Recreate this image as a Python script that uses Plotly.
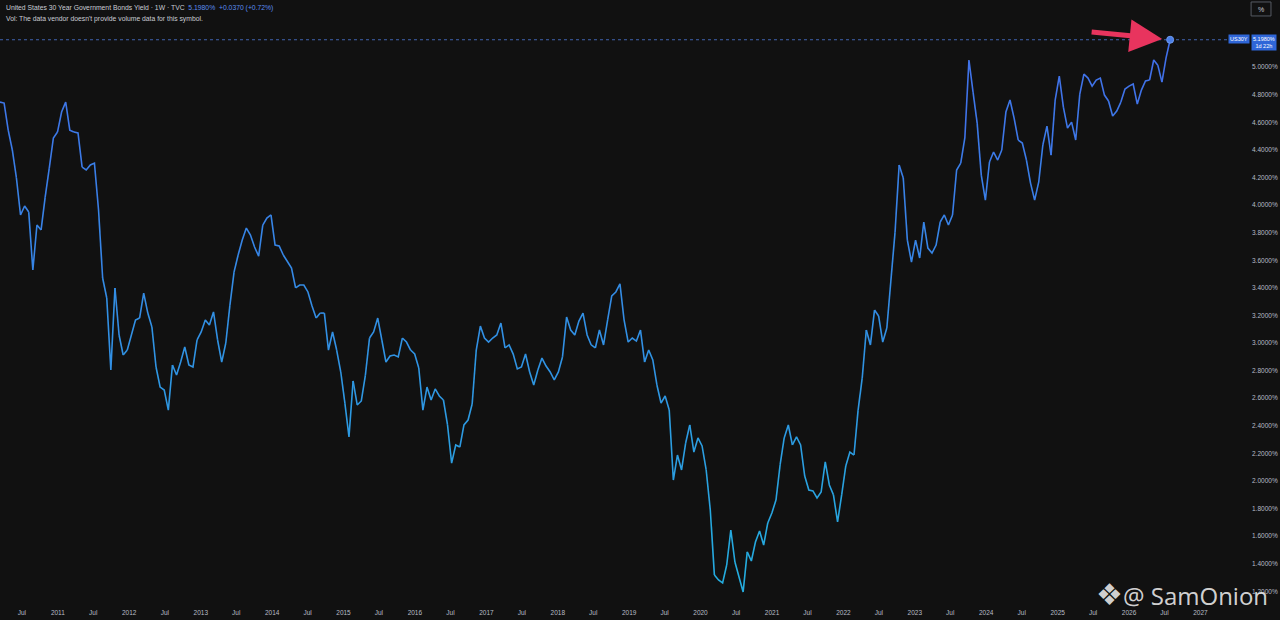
import plotly.graph_objects as go
import pandas as pd

# ---------------- data ----------------
start_date = "2010-03-11"          # first bar shown
bar_step_days = 21                 # sampled every 3 weeks
yields = [
    4.746, 4.739, 4.543, 4.399, 4.196, 3.928, 3.993, 3.949, 3.529, 3.855,
    3.819, 4.058, 4.268, 4.486, 4.529, 4.674, 4.746, 4.543, 4.529, 4.522,
    4.275, 4.254, 4.290, 4.304, 3.964, 3.471, 3.326, 2.804, 3.399, 3.058,
    2.913, 2.949, 3.058, 3.167, 3.181, 3.362, 3.217, 3.116, 2.826, 2.681,
    2.659, 2.514, 2.841, 2.768, 2.862, 2.971, 2.841, 2.826, 3.022, 3.080,
    3.167, 3.130, 3.225, 3.022, 2.862, 3.000, 3.275, 3.514, 3.638, 3.746,
    3.833, 3.783, 3.696, 3.630, 3.855, 3.906, 3.928, 3.710, 3.703, 3.638,
    3.587, 3.543, 3.399, 3.420, 3.420, 3.370, 3.268, 3.181, 3.217, 3.217,
    2.949, 3.080, 2.949, 2.790, 2.565, 2.319, 2.725, 2.551, 2.580, 2.768,
    3.036, 3.080, 3.181, 3.022, 2.862, 2.906, 2.913, 2.899, 3.036, 3.007,
    2.949, 2.920, 2.819, 2.514, 2.681, 2.587, 2.667, 2.616, 2.587, 2.406,
    2.130, 2.261, 2.246, 2.406, 2.442, 2.558, 2.949, 3.123, 3.036, 3.007,
    3.036, 3.058, 3.145, 2.964, 2.986, 2.920, 2.812, 2.826, 2.920, 2.790,
    2.696, 2.804, 2.891, 2.833, 2.790, 2.732, 2.790, 2.899, 3.188, 3.094,
    3.058, 3.159, 3.217, 3.058, 2.986, 2.964, 3.094, 2.986, 3.167, 3.341,
    3.370, 3.428, 3.167, 3.007, 3.036, 3.014, 3.094, 2.862, 2.949, 2.877,
    2.696, 2.565, 2.616, 2.514, 2.007, 2.188, 2.080, 2.275, 2.406, 2.210,
    2.312, 2.254, 2.080, 1.790, 1.319, 1.283, 1.261, 1.391, 1.645, 1.413,
    1.297, 1.196, 1.486, 1.420, 1.558, 1.638, 1.536, 1.696, 1.768, 1.862,
    2.116, 2.312, 2.406, 2.261, 2.319, 2.261, 2.036, 1.935, 1.928, 1.877,
    1.920, 2.138, 1.971, 1.899, 1.703, 1.899, 2.109, 2.210, 2.188, 2.514,
    2.746, 3.094, 2.986, 3.239, 3.196, 3.007, 3.109, 3.457, 3.804, 4.290,
    4.196, 3.746, 3.587, 3.746, 3.616, 3.877, 3.688, 3.652, 3.710, 3.877,
    3.928, 3.855, 3.928, 4.254, 4.304, 4.486, 5.051, 4.819, 4.594, 4.217,
    4.036, 4.312, 4.384, 4.326, 4.399, 4.674, 4.761, 4.630, 4.471, 4.449,
    4.326, 4.159, 4.036, 4.167, 4.435, 4.572, 4.362, 4.761, 4.935, 4.710,
    4.558, 4.601, 4.471, 4.804, 4.949, 4.920, 4.862, 4.906, 4.920, 4.797,
    4.754, 4.645, 4.681, 4.746, 4.841, 4.862, 4.877, 4.732, 4.833, 4.899,
    4.906, 5.051, 5.014, 4.891, 5.065, 5.198,
]

x_tick_dates = [
    "2010-07-01", "2011-01-01", "2011-07-01", "2012-01-01", "2012-07-01",
    "2013-01-01", "2013-07-01", "2014-01-01", "2014-07-01", "2015-01-01",
    "2015-07-01", "2016-01-01", "2016-07-01", "2017-01-01", "2017-07-01",
    "2018-01-01", "2018-07-01", "2019-01-01", "2019-07-01", "2020-01-01",
    "2020-07-01", "2021-01-01", "2021-07-01", "2022-01-01", "2022-07-01",
    "2023-01-01", "2023-07-01", "2024-01-01", "2024-07-01", "2025-01-01",
    "2025-07-01", "2026-01-01", "2026-07-01", "2027-01-01", "2027-07-01",
]
x_tick_text = [
    "Jul", "2011", "Jul", "2012", "Jul", "2013", "Jul", "2014", "Jul", "2015",
    "Jul", "2016", "Jul", "2017", "Jul", "2018", "Jul", "2019", "Jul", "2020",
    "Jul", "2021", "Jul", "2022", "Jul", "2023", "Jul", "2024", "Jul", "2025",
    "Jul", "2026", "Jul", "2027", "Jul",
]
y_tick_vals = [1.2, 1.4, 1.6, 1.8, 2.0, 2.2, 2.4, 2.6, 2.8, 3.0,
               3.2, 3.4, 3.6, 3.8, 4.0, 4.2, 4.4, 4.6, 4.8, 5.0]
y_tick_text = [f"{v:.4f}%" for v in y_tick_vals]

symbol_name = "United States 30 Year Government Bonds Yield · 1W · TVC"
last_text = "5.1980%  +0.0370 (+0.72%)"
vol_text = "Vol: The data vendor doesn't provide volume data for this symbol."
ticker = "US30Y"
countdown = "1d 22h"

# ---------------- style ----------------
BG = "#111111"
TXT = "#b8bcc6"
FONT = "Liberation Sans"
LOW_C = (36, 174, 222)
HIGH_C = (66, 110, 234)
V_LO, V_HI = 1.2, 5.2
NBINS = 18

dates = pd.date_range(start_date, periods=len(yields), freq=f"{bar_step_days}D")


def bin_of(v):
    t = (v - V_LO) / (V_HI - V_LO)
    t = min(max(t, 0.0), 0.9999)
    return int(t * NBINS)


def color_of(b):
    t = (b + 0.5) / NBINS
    r = round(LOW_C[0] + t * (HIGH_C[0] - LOW_C[0]))
    g = round(LOW_C[1] + t * (HIGH_C[1] - LOW_C[1]))
    bl = round(LOW_C[2] + t * (HIGH_C[2] - LOW_C[2]))
    return f"rgb({r},{g},{bl})"


fig = go.Figure()

# split line into runs of similar colour (vertical gradient effect)
seg_bins = [bin_of((yields[i] + yields[i + 1]) / 2) for i in range(len(yields) - 1)]
i = 0
while i < len(seg_bins):
    j = i
    while j + 1 < len(seg_bins) and seg_bins[j + 1] == seg_bins[i]:
        j += 1
    fig.add_trace(go.Scatter(
        x=dates[i:j + 2], y=yields[i:j + 2], mode="lines",
        line=dict(color=color_of(seg_bins[i]), width=1.6),
        hoverinfo="skip", showlegend=False,
    ))
    i = j + 1

# last point dot
fig.add_trace(go.Scatter(
    x=[dates[-1]], y=[yields[-1]], mode="markers",
    marker=dict(size=7, color="#4a7fe8", line=dict(color="#6f9bf0", width=1)),
    hoverinfo="skip", showlegend=False,
))

# last price dotted line
fig.add_shape(type="line", xref="paper", x0=0, x1=1, yref="y",
              y0=yields[-1], y1=yields[-1],
              line=dict(color="rgba(80,125,225,0.75)", width=1, dash="dot"))

annotations = [
    dict(xref="paper", yref="paper", x=0, y=1, xshift=4, yshift=-2,
         xanchor="left", yanchor="top", showarrow=False, align="left",
         text=f"{symbol_name}  <span style='color:#5b8def'>{last_text}</span>",
         font=dict(size=6.8, color="#c9ccd4", family=FONT)),
    dict(xref="paper", yref="paper", x=0, y=1, xshift=4, yshift=-13,
         xanchor="left", yanchor="top", showarrow=False, align="left",
         text=vol_text, font=dict(size=6.8, color="#c9ccd4", family=FONT)),
    # axis price labels
    dict(xref="paper", yref="y", x=1, y=yields[-1], xshift=0, yshift=1,
         xanchor="left", yanchor="middle", showarrow=False, text=ticker,
         bgcolor="#2f66d8", borderpad=1,
         font=dict(size=5.5, color="white", family=FONT)),
    dict(xref="paper", yref="y", x=1, y=yields[-1], xshift=23, yshift=-3,
         xanchor="left", yanchor="middle", showarrow=False, align="center",
         text=f"{yields[-1]:.4f}%<br>{countdown}",
         bgcolor="#2f66d8", borderpad=1,
         font=dict(size=5.5, color="white", family=FONT)),
    # red arrow
    dict(xref="x", yref="y", x=dates[-1], y=yields[-1], ax=-80, ay=-8,
         showarrow=True, arrowhead=2, arrowsize=1.3, arrowwidth=5,
         arrowcolor="#e8345e", standoff=8, text=""),
    # "%" button
    dict(xref="paper", yref="paper", x=1, y=1, xshift=33, yshift=-9,
         xanchor="center", yanchor="middle", showarrow=False, text="%",
         font=dict(size=7, color="#c9ccd4", family=FONT)),
    # watermark
    dict(xref="paper", yref="paper", x=1.034, y=0.004,
         xanchor="right", yanchor="middle", showarrow=False,
         text="@ SamOnion",
         font=dict(size=24, color="rgba(235,235,235,0.9)", family="Open Sans")),
    dict(xref="paper", yref="paper", x=0.9035, y=0.006,
         xanchor="center", yanchor="middle", showarrow=False,
         text="❖", font=dict(size=30, color="rgba(235,235,235,0.9)", family="DejaVu Sans")),
]
fig.update_layout(annotations=annotations)

fig.add_shape(type="rect", xref="paper", yref="paper",
              x0=1.0188, x1=1.0350, y0=0.9733, y1=0.9967,
              line=dict(color="#555a63", width=1))

fig.update_layout(
    width=1280, height=620,
    paper_bgcolor=BG, plot_bgcolor=BG,
    margin=dict(l=0, r=52, t=0, b=22),
    showlegend=False,
    xaxis=dict(
        type="date", range=["2010-03-11", "2027-05-22"],
        tickmode="array", tickvals=x_tick_dates, ticktext=x_tick_text,
        showgrid=False, zeroline=False, showline=False, ticks="",
        tickfont=dict(size=6.5, color=TXT, family=FONT),
        ticklabelstandoff=9,
    ),
    yaxis=dict(
        side="right", range=[1.152, 5.486],
        tickmode="array", tickvals=y_tick_vals, ticktext=y_tick_text,
        showgrid=False, zeroline=False, showline=False, ticks="",
        tickfont=dict(size=6.5, color=TXT, family=FONT),
        ticklabelstandoff=23,
    ),
)

fig.write_html(
    "out.html",
    config={"displayModeBar": False},
    post_script="document.body.style.margin='0';document.body.style.overflow='hidden';",
)
